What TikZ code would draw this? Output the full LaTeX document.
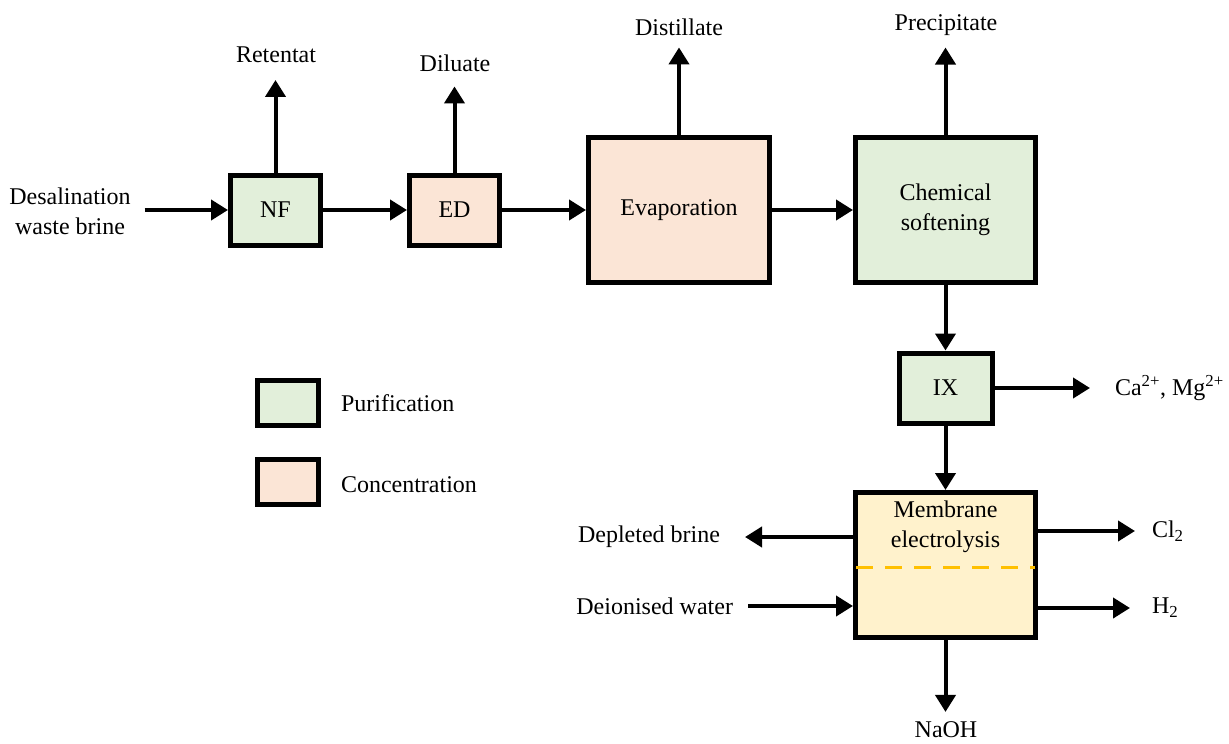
\documentclass[tikz,border=0pt]{standalone}
\usepackage{fontspec}
\setmainfont{Liberation Serif}
\usetikzlibrary{arrows.meta}
\definecolor{purfill}{RGB}{226,239,218}
\definecolor{concfill}{RGB}{251,229,214}
\definecolor{elecfill}{RGB}{255,242,204}
\definecolor{membline}{RGB}{255,192,0}
\tikzset{every picture/.style={line width=4pt}}

\begin{document}
\begin{tikzpicture}[x=1pt,y=-1pt,
  font=\fontsize{24}{30}\selectfont,
  unit/.style={draw, line width=5pt, inner sep=0pt, align=center},
  purif/.style={unit, fill=purfill},
  conc/.style={unit, fill=concfill},
  elec/.style={unit, fill=elecfill},
  stream/.style={inner sep=2pt, align=center},
  flow/.style={-{Triangle[length=17pt,width=20pt]}, line width=4pt}]
\useasboundingbox (0,0) rectangle (1229,744);

% process units
\node[purif, minimum width=90, minimum height=70] (nf) at (275.5,210) {NF};
\node[conc, minimum width=90, minimum height=70] (ed) at (454.5,210) {ED};
\node[conc, minimum width=181, minimum height=145] (evap) at (679,210) {Evaporation};
\node[purif, minimum width=180, minimum height=145] (soft) at (945.5,210) {Chemical\\softening};
\node[purif, minimum width=93, minimum height=70] (ix) at (945.5,388) {IX};
\node[elec, minimum width=180, minimum height=145] (memb) at (945.5,565) {};
\node[stream] (memblab) at (945.5,527) {Membrane\\electrolysis};
% membrane line
\draw[membline, line width=3pt, dash pattern=on 17pt off 12pt]
  ([xshift=3pt]memb.west |- 0,567) -- ([xshift=-3pt]memb.east |- 0,567);

% legend
\node[purif, minimum width=61, minimum height=45] (legpur) at (288,403) {};
\node[conc, minimum width=61, minimum height=45] (legcon) at (288,482) {};
\node[stream, anchor=west] (legpurtxt) at (337,403) {Purification};
\node[stream, anchor=west] (legcontxt) at (337,485) {Concentration};

% streams
\node[stream] (feed) at (70,211) {Desalination\\waste brine};
\node[stream] (ret) at (276,55) {Retentat};
\node[stream] (dil) at (455,63) {Diluate};
\node[stream] (dist) at (679,27) {Distillate};
\node[stream] (prec) at (946,25) {Precipitate};
\node[stream, anchor=west] (ions) at (1111,388) {Ca\textsuperscript{2+}, Mg\textsuperscript{2+}};
\node[stream, anchor=east] (depl) at (724,537) {Depleted brine};
\node[stream, anchor=east] (deion) at (737,606) {Deionised water};
\node[stream, anchor=west] (cl) at (1148,531) {Cl\textsubscript{2}};
\node[stream, anchor=west] (htwo) at (1148,608) {H\textsubscript{2}};
\node[stream] (naoh) at (946,730) {NaOH};

% main line
\draw[flow, shorten <=10pt] (feed.east |- nf) -- (nf);
\draw[flow] (nf) -- (ed);
\draw[flow] (ed) -- (evap.west |- ed);
\draw[flow] (evap.east |- ed) -- (soft.west |- ed);
\draw[flow] (soft) -- (ix);
\draw[flow] (ix) -- (memb);

% side streams
\draw[flow, shorten >=13pt] (nf) -- (nf |- ret.south);
\draw[flow, shorten >=11pt] (ed) -- (ed |- dil.south);
\draw[flow, shorten >=8pt] (evap) -- (evap |- dist.south);
\draw[flow, shorten >=8pt] (soft) -- (soft |- prec.south);
\draw[flow, shorten >=21pt] (ix) -- (ions.west |- ix);
\draw[flow, shorten >=21pt] (memb.west |- depl) -- (depl);
\draw[flow, shorten <=11pt] (deion) -- (memb.west |- deion);
\draw[flow, shorten >=13pt] (memb.east |- cl) -- (cl);
\draw[flow, shorten >=18pt] (memb.east |- htwo) -- (htwo);
\draw[flow, shorten >=6pt] (memb) -- (memb |- naoh.north);

\end{tikzpicture}
\end{document}
